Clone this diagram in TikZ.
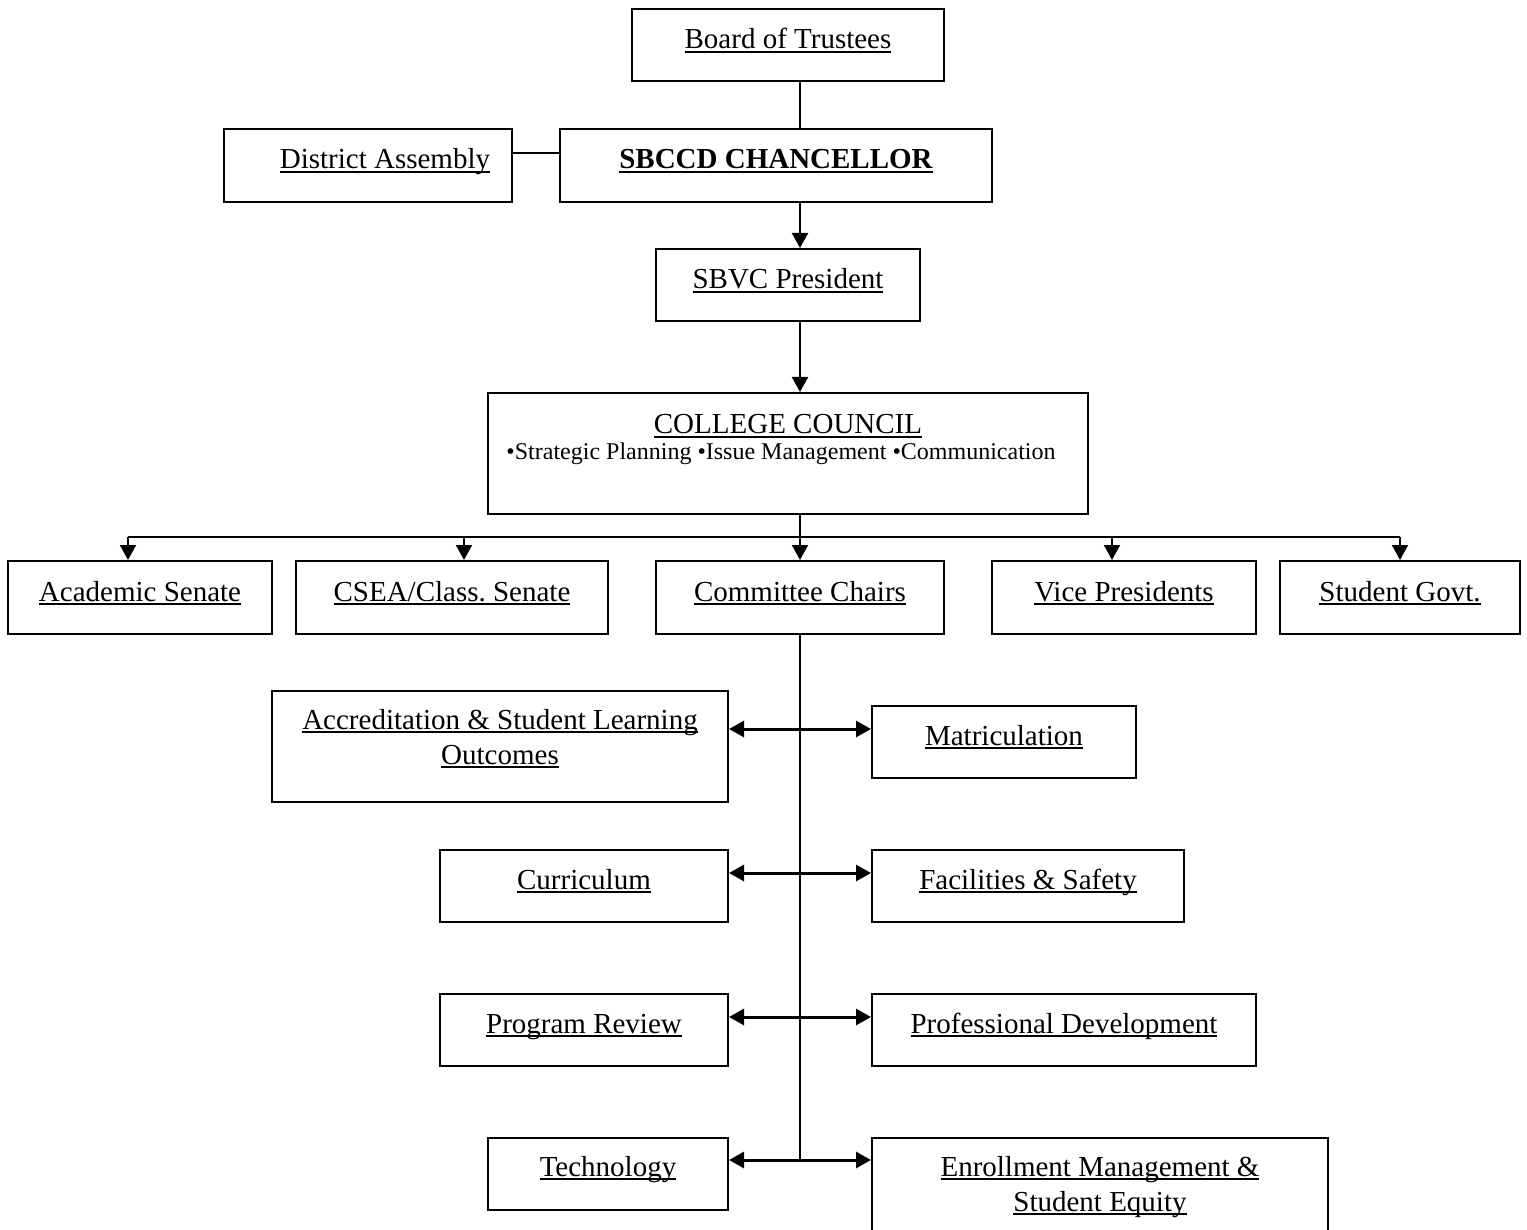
\documentclass[tikz,border=0pt]{standalone}
\usepackage{fontspec}
\setmainfont{Liberation Serif}
\usetikzlibrary{arrows.meta}
\frenchspacing
\newsavebox\myulbox
\newcommand\myul[1]{\leavevmode\sbox\myulbox{#1}\rlap{\rule[-0.13em]{\wd\myulbox}{0.065em}}\usebox\myulbox}
\tikzset{
  box/.style={draw, line width=2pt, inner sep=0pt, anchor=north, text height=40pt,
    font=\fontsize{29}{35}\selectfont},
  conn/.style={line width=2pt},
  arr/.style={line width=2pt, -{Triangle[width=16pt,length=15pt]}},
  dbl/.style={line width=3pt, {Triangle[width=16pt,length=15pt]}-{Triangle[width=16pt,length=15pt]}},
}
\begin{document}
\begin{tikzpicture}[x=1pt,y=-1pt]
\useasboundingbox (0,0) rectangle (1527,1230);
\clip (0,0) rectangle (1527,1230);
% top
\node[box, minimum width=312pt, text depth=32pt] (board) at (788,8) {\myul{Board of Trustees}};
\node[box, minimum width=288pt, text depth=33pt] (district) at (368,128) {\hspace*{34pt}\myul{District Assembly}};
\node[box, minimum width=432pt, text depth=33pt] (chancellor) at (776,128) {\myul{\bfseries SBCCD CHANCELLOR}};
\node[box, minimum width=264pt, text depth=32pt] (president) at (788,248) {\myul{SBVC President}};
\node[box, minimum width=600pt, text height=41pt, text depth=80pt] (council) at (788,392) {\myul{COLLEGE COUNCIL}};
\node[anchor=base, inner sep=0pt, font=\fontsize{24}{27}\selectfont] (councilsub) at (781,460) {•Strategic Planning •Issue Management •Communication};
% row
\node[box, minimum width=264pt, text depth=33pt] (academic) at (140,560) {\myul{Academic Senate}};
\node[box, minimum width=312pt, text depth=33pt] (csea) at (452,560) {\myul{CSEA/Class. Senate}};
\node[box, minimum width=288pt, text depth=33pt] (chairs) at (800,560) {\myul{Committee Chairs}};
\node[box, minimum width=264pt, text depth=33pt] (vp) at (1124,560) {\myul{Vice Presidents}};
\node[box, minimum width=240pt, text depth=33pt] (sg) at (1400,560) {\myul{Student Govt.}};
% committees
\node[box, minimum width=456pt, text height=38pt, text depth=73pt] (accred) at (500,690)
  {\begin{tabular}[t]{@{}c@{}}\myul{Accreditation \& Student Learning}\\ \myul{Outcomes}\end{tabular}};
\node[box, minimum width=264pt, text height=39pt, text depth=33pt] (matric) at (1004,705) {\myul{Matriculation}};
\node[box, minimum width=288pt, text height=39pt, text depth=33pt] (curric) at (584,849) {\myul{Curriculum}};
\node[box, minimum width=312pt, text height=39pt, text depth=33pt] (facil) at (1028,849) {\myul{Facilities \& Safety}};
\node[box, minimum width=288pt, text height=39pt, text depth=33pt] (program) at (584,993) {\myul{Program Review}};
\node[box, minimum width=384pt, text height=39pt, text depth=33pt] (profdev) at (1064,993) {\myul{Professional Development}};
\node[box, minimum width=240pt, text height=38pt, text depth=34pt] (tech) at (608,1137) {\myul{Technology}};
\node[box, minimum width=456pt, text height=38pt, text depth=73pt] (enroll) at (1100,1137)
  {\begin{tabular}[t]{@{}c@{}}\myul{Enrollment Management \&}\\ \myul{Student Equity}\end{tabular}};
% coordinates
\coordinate (ax) at (800,0);
\coordinate (dl) at (0,153);
\coordinate (bA) at (128,537);
\coordinate (bB) at (464,537);
\coordinate (bC) at (800,537);
\coordinate (bD) at (1112,537);
\coordinate (bE) at (1400,537);
\coordinate (r1) at (800,729);
\coordinate (r2) at (800,873);
\coordinate (r3) at (800,1017);
\coordinate (r4) at (800,1160);
% connectors
\draw[conn] (board.south -| ax) -- (chancellor.north -| ax);
\draw[conn] (district.east |- dl) -- (chancellor.west |- dl);
\draw[arr] (chancellor.south -| ax) -- (president.north -| ax);
\draw[arr] (president.south -| ax) -- (council.north -| ax);
\draw[conn] (council.south -| ax) -- (bC);
\draw[conn] (bA) -- (bE);
\draw[arr] (bA) -- (bA |- academic.north);
\draw[arr] (bB) -- (bB |- csea.north);
\draw[arr] (bC) -- (chairs.north);
\draw[arr] (bD) -- (bD |- vp.north);
\draw[arr] (bE) -- (bE |- sg.north);
\draw[conn] (chairs.south) -- (r4);
\draw[dbl] (r1 -| accred.east) -- (r1 -| matric.west);
\draw[dbl] (r2 -| curric.east) -- (r2 -| facil.west);
\draw[dbl] (r3 -| program.east) -- (r3 -| profdev.west);
\draw[dbl] (r4 -| tech.east) -- (r4 -| enroll.west);
\end{tikzpicture}
\end{document}
